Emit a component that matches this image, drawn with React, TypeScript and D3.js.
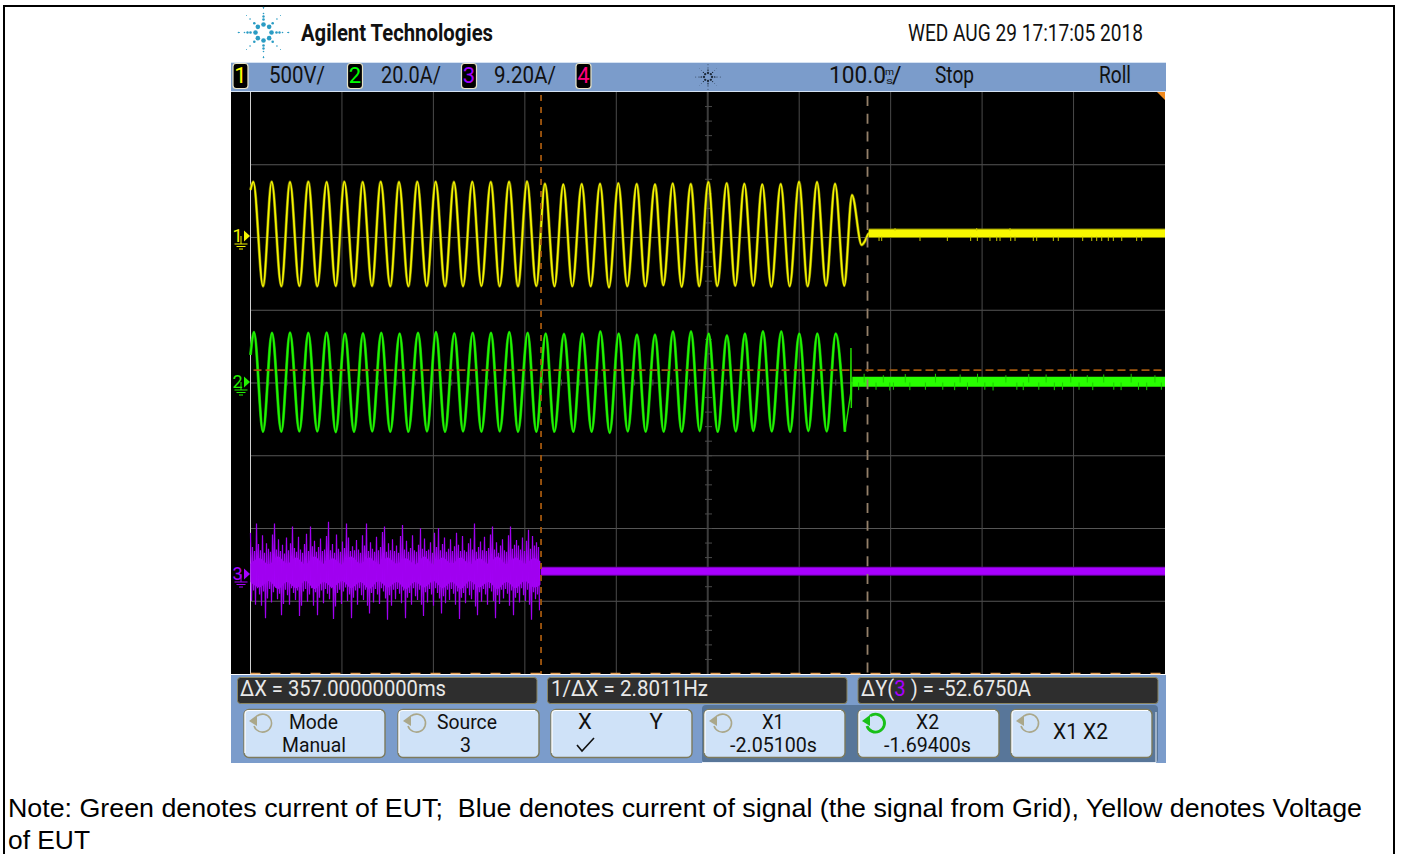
import React from "react";
import * as d3 from "d3";

// ---- time base: milliseconds since the left edge of the screen (100 ms/div, 10 div)
const yellowPeakT = [3.1,23.2,43.2,63.2,83.3,102.6,122.7,142.4,162.4,182.4,202.5,222.5,242.5,262.7,282.7,302.4,322,342,362.2,382.2,402.2,422.3,442.3,461.7,481.4,500.6,520.7,540,559.6,579.8,599.8,619.5,639.2,657.7];
const yellowPeakV = [376,376,374,376,374,376,374,376,374,376,376,374,376,374,376,378,362,358,360,362,366,360,358,364,360,374,366,362,358,360,376,374,362,285];
const yellowTroughT = [13.7,33.7,53.4,73,93.2,113.2,132.8,152.8,172.6,192.7,212.7,232.4,252.5,272.5,292.5,312.5,332.4,351.9,372,392,412,431.7,451.4,471.5,490.7,510.4,530.1,549.8,569.5,589.6,609.3,629.3,649.3];
const yellowTroughV = [-342,-342,-340,-342,-340,-342,-340,-342,-342,-340,-342,-342,-340,-342,-342,-340,-342,-342,-342,-350,-342,-342,-335,-345,-342,-340,-338,-338,-345,-342,-342,-338,-338];
const yellowTail = [[668.3,-58],[672,-30],[676,20],[680,26]];
const yellowFlat = [[676,22],[1000,22]];
const yellowDownT = [687.3,690.2,732.1,762,787.5,794.8,808.6,816,819.6,831.3,836,856,859.7,877.9,883.3,910,919.9,925.3,930.8,938,943.5,952.7,969,974.5];
const yellowUpT = [704.8,794.1,830.5];

const greenPeakT = [3.8,23.5,43.2,63.2,83.3,103.3,123,143,163.1,183.2,202.8,222.9,243,263,283,303.1,322.8,342.8,362.8,382.5,402.6,422.6,442.3,462,481.7,501,521,540.7,560.4,580.4,600.1,619.8,639.9];
const greenPeakA = [13.8,13.6,13.7,13.6,13.7,13.4,13.5,13.6,13.4,13.6,13.8,13.5,13.6,13.6,13.8,13.6,13.4,13.3,13.4,14,13.4,13.1,13.1,14,14,13.4,12.9,13.4,14,14,13.4,13.4,13.4];
const greenTroughT = [13.7,33.7,53.4,73,93.2,113.2,133.1,152.8,172.6,193,212.7,232.4,252.5,272.5,292.5,312.5,332.2,353,373.1,392.8,412.5,432.1,451.8,471.5,491.2,510.9,530.6,549.8,570,590,610,630.1,650];
const greenTroughA = [-13.5,-13.5,-13.4,-13.4,-13.6,-13.5,-13.4,-13.5,-13.5,-13.4,-13.5,-13.4,-13.5,-13.4,-13.5,-13.5,-13.5,-13.5,-13.5,-13.8,-13.4,-13.5,-13.5,-13.5,-13.3,-13.5,-13.4,-13.3,-13.4,-13.5,-13.3,-13.4,-13.5];
const greenTail = [[656.3,-3],[656.6,9.5],[657,-7],[657.4,0.2]];
const greenFlat = [[658,0.2],[1000,0.2]];
const greenSpikeT = [665,671,684,692,699,703,716,721,738,749,757,770,776,784,795,803,812,826,838,845,851,862,870,879,888,897,906,915,921,933,944,952,963,971,980,989,996];
const greenSpikeA = [-2.1,2.4,-2,2,-2.2,-2,2.3,-2.1,-2,2.4,-2,-2.1,2.2,-2,2.4,-2,-2.2,2,-2,-2.1,2.3,-2,2.2,-2.1,-2,2.4,-2,2,-2.1,2.2,-2,-2.1,2.4,-2,-2.1,2,-2];

// ---- channel 3: one high and one low excursion per 2 px column, up to cursor X1
const purpleHi = [
 5.2,3.4,2.9,6.4,3.8,3.0,4.9,2.7,3.9,
 3.2,2.8,5.0,6.4,3.1,4.4,2.9,3.7,2.6,
 4.6,3.0,3.9,6.0,3.3,2.8,4.7,3.1,2.7,
 3.8,5.1,2.9,6.0,3.5,4.2,2.8,3.4,4.5,
 2.9,3.1,4.8,6.6,3.0,3.8,2.7,5.0,3.2,
 2.8,4.1,3.3,6.4,4.6,2.9,3.5,3.0,4.3,
 3.1,2.7,4.9,3.6,6.4,2.9,4.0,3.2,2.8,
 4.7,3.0,3.4,5.3,6.0,2.8,3.9,3.0,4.4,
 2.9,3.6,2.7,4.8,6.2,3.1,4.2,2.8,3.3,
 4.9,3.0,2.8,3.7,5.8,3.2,4.5,2.9,3.1,
 4.0,2.7,5.2,3.4,5.8,3.0,3.8,4.6,2.8,
 3.2,4.4,2.9,3.5,5.2,3.7,2.9,4.8,3.0,
 2.8,3.9,4.5,3.1,6.4,2.8,3.4,4.1,3.0,
 4.7,2.9,3.3,5.0,6.0,3.1,4.0,2.7,3.6,
 4.4,3.0,2.8,4.9,6.0,3.2,3.7,4.3,3.6,
 3.1,4.6,2.9,4.2,5.6,3.2,4.8,3.6,4.0,
 3.4];
const purpleLo = [
 -3.4,-2.1,-3.9,-1.8,-2.6,-4.0,-2.2,-5.6,-3.1,
 -1.9,-3.6,-2.3,-1.7,-3.2,-2.5,-5.2,-3.8,-2.0,
 -2.7,-3.9,-1.8,-2.4,-3.3,-2.1,-5.3,-4.0,-2.2,
 -1.9,-3.5,-2.6,-1.8,-4.0,-2.3,-5.2,-3.0,-2.1,
 -3.7,-1.9,-2.5,-3.2,-1.8,-5.7,-4.1,-2.4,-2.0,
 -3.8,-2.2,-1.7,-3.4,-2.6,-5.6,-3.0,-2.1,-3.9,
 -1.8,-2.7,-3.3,-2.0,-4.0,-5.0,-2.4,-3.6,-1.9,
 -2.6,-3.8,-1.8,-2.2,-3.1,-5.8,-2.7,-4.0,-2.0,
 -3.2,-1.9,-2.5,-3.7,-2.1,-5.6,-3.0,-2.4,-3.9,
 -1.8,-2.8,-3.3,-2.0,-3.9,-5.3,-2.3,-3.6,-1.9,
 -2.6,-4.0,-1.8,-2.4,-3.1,-5.0,-2.8,-3.7,-2.0,
 -3.3,-1.9,-2.5,-3.9,-2.2,-5.7,-3.0,-2.4,-3.7,
 -1.8,-2.7,-3.2,-2.0,-4.1,-5.2,-2.3,-3.5,-1.9,
 -2.6,-3.9,-1.8,-2.2,-3.4,-5.6,-2.7,-3.8,-2.0,
 -3.1,-1.9,-2.5,-4.0,-2.1,-5.2,-3.0,-2.4,-3.6,
 -1.8,-2.7,-3.4,-2.0,-3.9,-5.8,-2.3,-3.2,-2.6,
 -4.6];
const purpleColumnMs = 2.187;
const purpleCoreT = [0,10,20,30,40,50,60,70,80,90,100,110,120,130,140,150,160,170,180,190,200,210,220,230,240,250,260,270,280,290,300,310,317];
const purpleCoreHi = [1.3,2.0,1.2,2.2,1.3,2.1,1.2,2.2,1.3,2.0,1.2,2.2,1.3,2.1,1.2,2.1,1.3,2.0,1.2,2.2,1.2,2.1,1.3,2.1,1.2,2.0,1.3,2.2,1.2,2.1,1.3,2.0,1.6];
const purpleCoreLo = [-1.0,-1.7,-0.9,-1.9,-1.0,-1.8,-0.9,-1.9,-1.0,-1.7,-0.9,-1.8,-1.0,-1.9,-0.9,-1.7,-1.0,-1.9,-1.0,-1.7,-0.9,-1.8,-1.0,-1.9,-0.9,-1.7,-1.0,-1.9,-1.0,-1.8,-0.9,-1.7,-1.4];
const purpleFlat = [[317.7,0.35],[1000,0.35]];

// ---- cursors and readouts
const cursorX = [317.7, 674.7];
const cursorYGreenA = [3.4];
const channelScales = ["500V/", "20.0A/", "9.20A/"];
const measurements = [
  { label: "ΔX = 357.00000000ms", x: 240, w: 206 },
  { label: "1/ΔX = 2.8011Hz", x: 551, w: 157 },
];
const softkeys = [
  { x: 244, top: "Mode", topX: 289, topW: 49, bottom: "Manual", botX: 282, botW: 64 },
  { x: 398, top: "Source", topX: 437, topW: 60, bottom: "3", botX: 460, botW: 11 },
  { x: 551, top: "", topX: 0, topW: 0, bottom: "", botX: 0, botW: 0 },
  { x: 704, top: "X1", topX: 762, topW: 22, bottom: "-2.05100s", botX: 730, botW: 87 },
  { x: 858, top: "X2", topX: 916, topW: 23, bottom: "-1.69400s", botX: 884, botW: 87 },
  { x: 1011, top: "", topX: 0, topW: 0, bottom: "", botX: 0, botW: 0 },
];

const scope = { l: 231, r: 1165, gl: 250.5, gr: 1165, t: 92, b: 674 };
const NARROW = "'Liberation Sans Narrow','Roboto','Liberation Sans',sans-serif";
const ARIAL = "'Liberation Sans',Arial,sans-serif";

const tx = d3.scaleLinear().domain([0, 1000]).range([scope.gl, scope.gr]);
const divPx = (scope.b - scope.t) / 8;
const yGridPx = d3.range(9).map((i) => scope.t + i * divPx);
const xGridPx = d3.range(11).map((i) => scope.gl + (i * (scope.gr - scope.gl)) / 10);
const yV = d3.scaleLinear().domain([-500, 500]).range([236.5 + divPx, 236.5 - divPx]);
const yG = d3.scaleLinear().domain([-20, 20]).range([382.5 + divPx, 382.5 - divPx]);
const yP = d3.scaleLinear().domain([-9.2, 9.2]).range([574 + divPx, 574 - divPx]);

const merge = (pt: number[], pv: number[], tt: number[], tv: number[]) => {
  const out: number[][] = [];
  pt.forEach((t, i) => {
    out.push([t, pv[i]]);
    if (i < tt.length) out.push([tt[i], tv[i]]);
  });
  return out;
};
const smooth = (y: any) => d3.line<number[]>().x((d) => tx(d[0])).y((d) => y(d[1])).curve(d3.curveMonotoneX);
const straight = (y: any) => d3.line<number[]>().x((d) => tx(d[0])).y((d) => y(d[1]));

const yellowPath = smooth(yV)([[0, 320], ...merge(yellowPeakT, yellowPeakV, yellowTroughT, yellowTroughV), ...yellowTail])!;
const greenPath = smooth(yG)([[0, 7.6], ...merge(greenPeakT, greenPeakA, greenTroughT, greenTroughA)])!;
const greenTailPath = straight(yG)([[650, -13.5], ...greenTail])!;
const purpleZig: number[][] = [];
purpleHi.forEach((h, i) => {
  purpleZig.push([i * purpleColumnMs, h]);
  purpleZig.push([(i + 0.5) * purpleColumnMs, purpleLo[i]]);
});
const purplePath = straight(yP)(purpleZig)!;
const purpleCorePath = d3.area<number>()
  .x((t) => tx(t))
  .y0((_, i) => yP(purpleCoreLo[i]))
  .y1((_, i) => yP(purpleCoreHi[i]))
  .curve(d3.curveMonotoneX)(purpleCoreT)!;

function T({ x, y, w, size = 22, fill = "#111", anchor, weight, family = NARROW, children }: any) {
  return (
    <text x={x} y={y} fontSize={size} fill={fill} fontFamily={family} fontWeight={weight} textAnchor={anchor}
      textLength={w} lengthAdjust={w ? "spacingAndGlyphs" : undefined} style={{ whiteSpace: "pre" }}>
      {children}
    </text>
  );
}

function Star({ cx, cy, k, color }: any) {
  const rings = [[8, 2.3], [13, 1.3], [19, 0.8], [24, 0.5]];
  return (
    <g fill={color}>
      {rings.flatMap(([r, s], ri) =>
        d3.range(8).map((a) => {
          const ang = (a * Math.PI) / 4;
          return <circle key={ri + "-" + a} cx={cx + k * r * Math.cos(ang)} cy={cy + k * r * Math.sin(ang)} r={k * s} />;
        })
      )}
      {[0, 1, 2, 3].map((a) => (
        <g key={a}>
          <circle cx={cx + k * 25 * Math.cos((a * Math.PI) / 2)} cy={cy + k * 25 * Math.sin((a * Math.PI) / 2)} r={k * 0.8} />
          <circle cx={cx + k * 16 * Math.cos((a * Math.PI) / 2)} cy={cy + k * 16 * Math.sin((a * Math.PI) / 2)} r={k * 1.2} />
        </g>
      ))}
    </g>
  );
}

function Badge({ x, n, color }: any) {
  return (
    <g>
      <rect x={x} y={63.5} width={15} height={25} rx={3} fill="#000" stroke="#e8e4c8" strokeWidth={1.2} />
      <T x={x + 7.5} y={83} size={22} fill={color} anchor="middle">{n}</T>
    </g>
  );
}

function GndMark({ y, n, color }: any) {
  return (
    <g>
      <T x={232.5} y={y + 6} size={18} fill={color}>{n}</T>
      <path d={`M244,${y - 5.5} L250,${y} L244,${y + 5.5} Z`} fill={color} />
      <path d={`M241,${y} V${y + 8} M234.5,${y + 8} H247.5 M236.5,${y + 10.5} H245.5 M239,${y + 13} H243`} stroke={color} strokeWidth={1} fill="none" />
    </g>
  );
}

function Knob({ cx, cy, color, sw, head }: any) {
  return (
    <g fill="none" stroke={color} strokeWidth={sw}>
      <path d={`M${cx - 5},${cy - 7} A9,9 0 1 1 ${cx - 8},${cy + 3}`} />
      <path d={`M${cx - 13},${cy - 2} L${cx - 5},${cy - 8} L${cx - 5},${cy + 3} Z`} fill={head} stroke="none" />
    </g>
  );
}

export default function App() {
  return (
    <svg width={1401} height={854} viewBox="0 0 1401 854" style={{ position: "fixed", left: 0, top: 0, background: "#fff" }}>
      <rect x={4} y={6} width={1390} height={900} fill="#fff" stroke="#000" strokeWidth={2} />

      <Star cx={263.5} cy={32.5} k={1} color="#2a9cc4" />
      <T x={301} y={41} w={192} size={23} weight={700} fill="#111">Agilent Technologies</T>
      <T x={908} y={41} w={235} size={23} fill="#111">WED AUG 29 17:17:05 2018</T>

      {/* top status bar */}
      <rect x={231} y={62} width={935} height={30} fill="#7b9ccb" />
      <path d="M231,62.5H1166M231,91.5H1166" stroke="#d5e2f2" strokeWidth={1} />
      <Badge x={233} n="1" color="#ffff00" />
      <Badge x={347.5} n="2" color="#00ff00" />
      <Badge x={461.5} n="3" color="#a000ff" />
      <Badge x={576} n="4" color="#ff0080" />
      <T x={269} y={83} w={56} size={23}>{channelScales[0]}</T>
      <T x={381} y={83} w={60} size={23}>{channelScales[1]}</T>
      <T x={494} y={83} w={62} size={23}>{channelScales[2]}</T>
      <Star cx={708} cy={77} k={0.5} color="#1d2a3a" />
      <T x={829} y={83} w={57} size={23}>100.0</T>
      <T x={885} y={75} size={9} w={9}>m</T>
      <T x={886} y={84} size={9} w={7}>s</T>
      <T x={892} y={83} size={23}>/</T>
      <T x={935} y={83} w={39} size={23}>Stop</T>
      <T x={1099} y={83} w={32} size={23}>Roll</T>

      {/* screen */}
      <rect x={scope.l} y={scope.t} width={scope.r - scope.l} height={scope.b - scope.t} fill="#000" />
      <g stroke="#565656" strokeWidth={1}>
        {yGridPx.slice(1, 8).map((y) => <line key={y} x1={scope.gl} x2={scope.gr} y1={y} y2={y} />)}
        {xGridPx.slice(1, 10).map((x) => <line key={x} x1={x} x2={x} y1={scope.t} y2={scope.b} stroke={x === xGridPx[5] ? "#3c3c3c" : "#4a4a4a"} strokeWidth={x === xGridPx[5] ? 2 : 1} />)}
        {d3.range(1, 50).map((i) => {
          const x = scope.gl + (i * (scope.gr - scope.gl)) / 50;
          return <line key={i} x1={x} x2={x} y1={379.5} y2={385.5} stroke="#4a4a4a" />;
        })}
        {d3.range(1, 40).map((i) => {
          const y = scope.t + (i * (scope.b - scope.t)) / 40;
          return <line key={i} x1={705} x2={712} y1={y} y2={y} stroke="#4a4a4a" />;
        })}
      </g>
      <line x1={scope.gl} x2={scope.gl} y1={scope.t} y2={scope.b} stroke="#cfcfcf" strokeWidth={1} />
      <path d={`M${scope.r - 8},${scope.t} H${scope.r} V${scope.t + 8} Z`} fill="#f08a1e" />

      {/* channel 1 */}
      <path d={yellowPath} fill="none" stroke="#787800" strokeWidth={3} />
      <path d={yellowPath} fill="none" stroke="#f6f600" strokeWidth={1.7} />
      <path d={straight(yV)(yellowFlat)!} fill="none" stroke="#8a8a00" strokeWidth={9.4} />
      <path d={straight(yV)(yellowFlat)!} fill="none" stroke="#f8f800" strokeWidth={7.6} />
      <g stroke="#c8c800" strokeWidth={1}>
        {yellowDownT.map((t) => <line key={t} x1={tx(t)} x2={tx(t)} y1={yV(0)} y2={yV(-31)} />)}
        {yellowUpT.map((t) => <line key={t} x1={tx(t)} x2={tx(t)} y1={yV(40)} y2={yV(58)} />)}
      </g>

      {/* channel 2 */}
      <path d={greenPath} fill="none" stroke="#0f9a00" strokeWidth={3} />
      <path d={greenPath} fill="none" stroke="#22f500" strokeWidth={1.9} />
      <path d={greenTailPath} fill="none" stroke="#22e000" strokeWidth={1.4} />
      <path d={straight(yG)(greenFlat)!} fill="none" stroke="#28ff00" strokeWidth={10} />
      <g stroke="#1cc800" strokeWidth={1}>
        {greenSpikeT.map((t, i) => <line key={t} x1={tx(t)} x2={tx(t)} y1={yG(0)} y2={yG(greenSpikeA[i])} />)}
      </g>

      {/* channel 3 */}
      <path d={purpleCorePath} fill="#a800ff" />
      <path d={purplePath} fill="none" stroke="#a000f0" strokeWidth={1.2} />
      <path d={straight(yP)(purpleFlat)!} fill="none" stroke="#6c00a8" strokeWidth={9} />
      <path d={straight(yP)(purpleFlat)!} fill="none" stroke="#a800ff" strokeWidth={7} />

      {/* cursors */}
      <line x1={tx(cursorX[0])} x2={tx(cursorX[0])} y1={95} y2={scope.b} stroke="#a2570e" strokeWidth={1.8} strokeDasharray="6 6" />
      <line x1={tx(cursorX[1])} x2={tx(cursorX[1])} y1={96} y2={scope.b} stroke="#94806a" strokeWidth={1.8} strokeDasharray="10 7.7" />
      <line x1={scope.gl + 3} x2={scope.gr} y1={yG(cursorYGreenA[0])} y2={yG(cursorYGreenA[0])} stroke="#a2570e" strokeWidth={1.6} strokeDasharray="8 4" />
      <line x1={scope.gl} x2={scope.gr} y1={scope.b - 0.5} y2={scope.b - 0.5} stroke="#e09a50" strokeWidth={1.6} strokeDasharray="10 10" />

      <GndMark y={236} n="1" color="#f4f400" />
      <GndMark y={382} n="2" color="#22f000" />
      <GndMark y={574} n="3" color="#a800ff" />

      {/* lower panel */}
      <rect x={231} y={675} width={935} height={88} fill="#7b9ccb" />
      <rect x={702} y={705} width={456} height={58} rx={4} fill="#587699" />
      <path d="M702,762.5 H1156 V712" fill="none" stroke="#e8eef6" strokeWidth={1} />
      {[237.5, 547.5, 858].map((x, i) => (
        <rect key={x} x={x} y={677.5} width={i === 2 ? 300 : 299.5} height={26} rx={3} fill="#2e2e2e" stroke="#8a8560" strokeWidth={1} />
      ))}
      {measurements.map((m) => (
        <T key={m.label} x={m.x} y={696} w={m.w} size={22} fill="#e8e8e8">{m.label}</T>
      ))}
      <T x={861} y={696} w={170} size={22} fill="#e8e8e8">ΔY(<tspan fill="#a800ff">3</tspan> ) = -52.6750A</T>

      {softkeys.map((k, i) => (
        <g key={k.x}>
          <rect x={k.x} y={709.5} width={141} height={48} rx={5} fill="#cfe2f8" stroke="#7d7a5c" strokeWidth={1.4} />
          <path d={`M${k.x + 1},753 V714 Q${k.x + 1},710.5 ${k.x + 5},710.5 H${k.x + 137}`} fill="none" stroke="#fff" strokeWidth={1.2} />
          {i !== 2 && (i === 4
            ? <Knob cx={k.x + 17} cy={723} color="#18c018" sw={2.8} head="#18c018" />
            : <Knob cx={k.x + 18} cy={723} color="#aaa78a" sw={1.6} head="#aaa78a" />)}
          {k.top && <T x={k.topX} y={728.5} w={k.topW} size={20}>{k.top}</T>}
          {k.bottom && <T x={k.botX} y={751.5} w={k.botW} size={20}>{k.bottom}</T>}
        </g>
      ))}
      <T x={585} y={729} size={22} anchor="middle">X</T>
      <T x={656} y={729} size={22} anchor="middle">Y</T>
      <path d="M577,745 L582,751 L594,738" fill="none" stroke="#111" strokeWidth={1.6} />
      <T x={1053} y={739} w={55} size={22}>X1 X2</T>

      {/* note */}
      <T x={8} y={817} w={1354} size={25.4} family={ARIAL} fill="#000">Note: Green denotes current of EUT;  Blue denotes current of signal (the signal from Grid), Yellow denotes Voltage</T>
      <T x={8} y={849} w={82} size={25.4} family={ARIAL} fill="#000">of EUT</T>
    </svg>
  );
}
